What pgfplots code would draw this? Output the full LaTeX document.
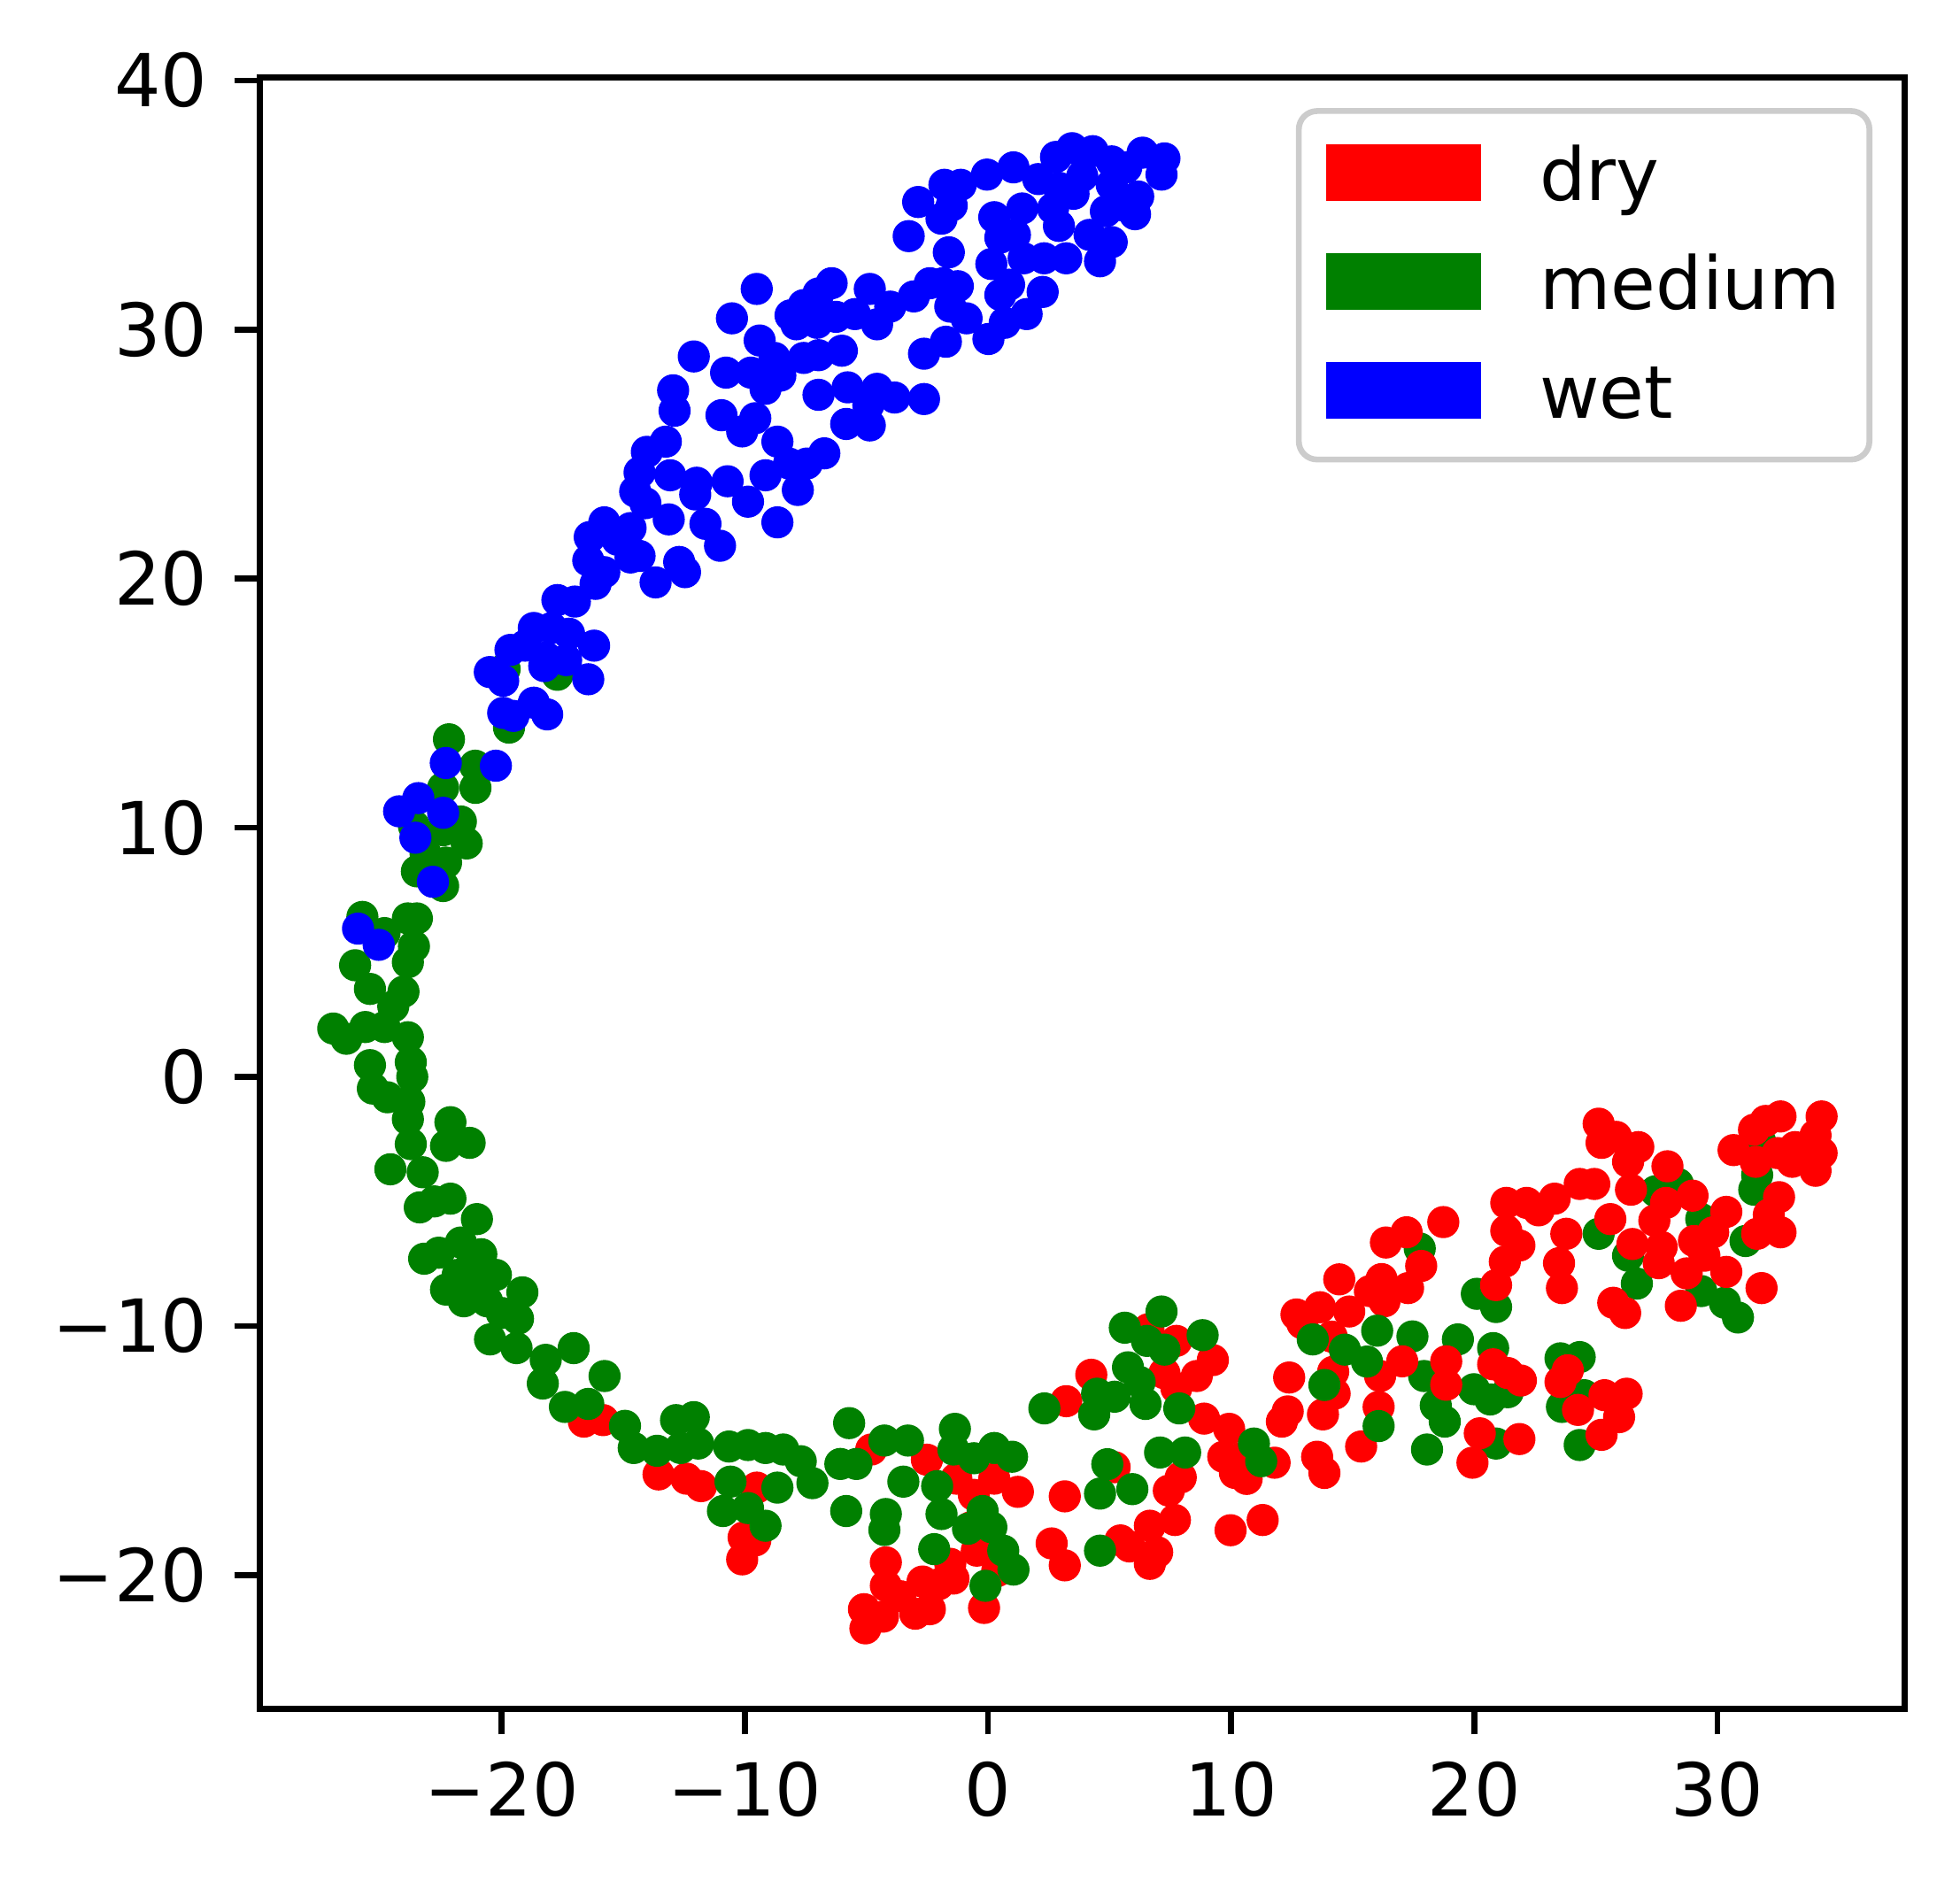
\documentclass[border=0pt]{standalone}
\usepackage{fontspec}
\setmainfont{DejaVu Sans}
\usepackage{pgfplots}
\pgfplotsset{compat=1.18}
\definecolor{mplred}{RGB}{255,0,0}
\definecolor{mplgreen}{RGB}{0,128,0}
\definecolor{mplblue}{RGB}{0,0,255}
\definecolor{legedge}{RGB}{204,204,204}
\begin{document}
\begin{tikzpicture}
\begin{axis}[
  name=ax,
  scale only axis,
  width=225.1pt, height=223.3pt,
  xmin=-29.95, xmax=37.70, ymin=-25.37, ymax=40.12,
  axis line style={line width=0.8pt},
  tick style={line width=0.8pt, black},
  major tick length=3.5pt,
  tick align=outside,
  tick pos=left,
  xtick={-20,-10,0,10,20,30},
  xticklabels={−20,−10,0,10,20,30},
  ytick={-20,-10,0,10,20,30,40},
  yticklabels={−20,−10,0,10,20,30,40},
  ticklabel style={font=\fontsize{10}{12}\selectfont, inner sep=0pt},
  xticklabel style={yshift=-3.5pt},
  yticklabel style={xshift=-3.5pt},
  clip=false,
]
% dry, left part
\addplot[only marks, mark=*, mark size=2pt, color=mplred, mark options={draw=none, fill=mplred}] table {
x y
-16.62 -13.84
-15.83 -13.78
-13.55 -15.96
-12.40 -16.13
-11.80 -16.43
-9.51 -16.49
-10.05 -18.49
-9.57 -18.61
-10.11 -19.37
-4.80 -14.96
-2.51 -15.37
-1.30 -16.13
0.26 -16.13
1.23 -16.66
-0.58 -16.78
-0.70 -18.08
-0.46 -19.02
0.38 -19.84
-4.20 -19.49
-4.20 -20.43
-3.60 -20.85
-2.69 -20.26
-1.55 -19.55
-1.42 -20.14
-2.03 -20.37
-5.10 -21.37
-5.04 -22.14
-4.32 -21.67
-2.99 -21.55
-2.39 -21.37
-0.16 -21.32
4.25 -11.96
3.22 -13.02
6.60 -10.13
7.75 -10.60
9.25 -11.37
7.26 -11.90
7.75 -12.49
8.59 -12.01
8.89 -13.72
9.92 -14.13
9.68 -15.25
10.40 -15.31
10.16 -15.90
10.64 -16.14
11.79 -15.49
7.93 -16.08
7.44 -16.61
5.21 -15.67
3.16 -16.84
2.62 -18.73
3.16 -19.61
5.45 -18.61
5.82 -18.85
6.66 -18.02
7.69 -17.79
6.96 -19.08
6.66 -19.55
9.98 -18.20
11.30 -17.79
12.39 -12.07
12.33 -13.43
12.09 -13.84
14.20 -11.84
14.26 -12.72
13.78 -13.55
13.54 -15.25
13.84 -15.90
15.35 -14.84
12.69 -9.54
12.93 -9.89
13.66 -9.25
14.86 -9.42
14.14 -10.43
16.13 -12.01
16.07 -13.25
14.45 -8.13
15.71 -8.60
16.37 -6.65
16.19 -8.12
16.31 -9.01
};
% medium
\addplot[only marks, mark=*, mark size=2pt, color=mplgreen, mark options={draw=none, fill=mplgreen}] table {
x y
-19.88 16.37
-17.71 16.14
-19.70 14.02
-22.17 13.55
-21.09 12.49
-22.41 11.60
-21.08 11.60
-23.61 10.07
-21.68 10.25
-21.44 9.37
-22.41 9.90
-23.13 8.95
-22.29 8.60
-23.49 8.25
-22.41 7.66
-25.73 6.42
-23.86 6.36
-23.49 6.36
-24.82 5.77
-23.61 5.24
-26.03 4.48
-23.86 4.60
-25.42 3.53
-24.04 3.42
-24.46 2.83
-26.93 1.94
-26.39 1.53
-25.61 2.00
-24.82 2.00
-23.86 1.59
-25.42 0.47
-23.74 0.59
-23.68 0.00
-25.30 -0.47
-24.70 -0.82
-23.80 -1.00
-23.86 -1.70
-23.74 -2.70
-22.11 -1.82
-22.29 -2.77
-21.32 -2.65
-24.58 -3.71
-23.25 -3.83
-22.77 -5.00
-23.37 -5.24
-22.11 -4.89
-21.02 -5.71
-23.19 -7.30
-22.59 -7.06
-21.68 -6.65
-20.84 -7.12
-22.29 -8.54
-21.56 -9.01
-21.81 -7.95
-20.24 -7.95
-19.15 -8.65
-20.60 -9.01
-19.33 -9.71
-20.48 -10.54
-19.39 -10.89
-18.19 -11.36
-17.04 -10.89
-15.77 -12.01
-18.31 -12.31
-17.40 -13.25
-16.44 -13.13
-14.93 -14.01
-14.57 -14.90
-21.20 -7.36
-20.00 -9.48
-21.08 -8.42
-13.61 -15.01
-12.83 -13.78
-12.10 -13.66
-12.64 -14.90
-11.92 -14.72
-10.65 -14.84
-9.87 -14.78
-9.15 -14.90
-8.42 -14.96
-7.70 -15.43
-7.22 -16.31
-8.66 -16.49
-10.59 -16.25
-10.90 -17.43
-9.87 -17.31
-9.15 -18.02
-5.71 -13.90
-6.07 -15.54
-5.41 -15.54
-5.83 -17.43
-4.26 -14.60
-3.29 -14.60
-3.48 -16.25
-4.20 -17.55
-4.26 -18.19
-1.36 -14.13
-1.42 -14.96
-2.09 -16.43
-1.91 -17.55
-0.82 -18.14
-0.22 -17.43
0.14 -18.08
0.26 -14.90
0.99 -15.25
-0.58 -15.31
-2.21 -18.96
0.63 -19.02
1.05 -19.78
-0.10 -20.43
5.63 -10.07
7.14 -9.42
6.54 -10.60
7.26 -10.95
8.83 -10.37
5.76 -11.66
6.24 -12.25
5.21 -12.84
4.37 -13.55
6.48 -13.13
7.87 -13.31
2.32 -13.31
4.49 -12.72
7.08 -15.08
8.11 -15.08
4.91 -15.55
4.61 -16.73
5.94 -16.55
10.94 -14.72
11.24 -15.43
4.61 -19.02
13.36 -10.54
14.68 -10.95
15.59 -11.43
16.01 -10.19
13.84 -12.37
16.07 -14.02
28.38 -4.30
27.47 -4.59
29.34 -5.71
29.34 -8.60
25.12 -6.30
26.33 -7.18
26.69 -8.30
20.11 -8.71
20.90 -9.24
17.76 -6.89
17.46 -10.42
19.33 -10.54
20.78 -10.89
17.94 -12.01
19.99 -12.54
20.66 -12.95
21.38 -12.66
18.42 -13.19
18.79 -13.84
18.06 -14.96
20.90 -14.72
23.55 -11.30
24.34 -11.25
24.52 -12.78
23.61 -13.25
24.34 -14.78
31.16 -6.59
31.64 -3.94
31.52 -4.53
30.31 -9.07
30.85 -9.66
31.76 -2.59
};
% dry, right part
\addplot[only marks, mark=*, mark size=2pt, color=mplred, mark options={draw=none, fill=mplred}] table {
x y
25.12 -1.88
25.24 -2.65
25.84 -2.41
26.75 -2.82
26.33 -3.41
27.95 -3.59
26.45 -4.53
28.98 -4.77
27.89 -5.06
27.41 -5.77
25.60 -5.71
26.51 -6.71
27.71 -6.83
27.59 -7.48
28.74 -7.89
29.04 -6.59
28.50 -9.19
25.72 -9.07
26.21 -9.48
24.34 -4.30
24.94 -4.30
23.31 -4.89
22.65 -5.36
22.16 -5.06
21.32 -5.06
21.32 -6.18
21.86 -6.77
21.26 -7.42
20.90 -8.36
23.79 -6.30
23.49 -7.48
23.61 -8.48
18.73 -5.83
17.22 -6.24
17.82 -7.59
17.28 -8.48
18.85 -11.42
18.85 -12.36
20.78 -11.54
21.38 -11.89
21.92 -12.19
23.55 -12.25
23.85 -11.78
24.27 -13.37
25.36 -12.78
26.27 -12.72
25.96 -13.66
25.24 -14.37
20.23 -14.31
21.86 -14.54
19.93 -15.49
17.04 -11.42
29.47 -7.18
30.37 -5.42
29.83 -6.24
30.37 -7.83
31.82 -8.48
32.54 -4.83
32.12 -5.53
32.60 -6.24
31.64 -6.30
30.67 -2.94
31.58 -3.41
31.51 -2.12
31.99 -1.77
32.60 -1.59
34.29 -1.59
34.04 -2.35
33.20 -2.82
32.48 -3.06
33.08 -3.41
34.04 -3.77
34.29 -3.06
};
% wet
\addplot[only marks, mark=*, mark size=2pt, color=mplblue, mark options={draw=none, fill=mplblue}] table {
x y
2.80 36.93
3.46 37.28
4.31 37.16
5.09 36.75
6.36 37.10
7.26 36.87
7.14 36.22
5.69 36.51
3.88 36.16
3.52 35.45
5.09 35.81
6.18 35.34
4.85 34.75
6.05 34.63
5.57 34.98
2.92 35.69
2.68 34.86
2.07 36.04
1.05 36.51
-0.04 36.22
-1.12 35.81
-1.79 35.81
-1.49 34.98
-2.87 35.12
-1.91 34.45
1.41 34.86
0.26 34.51
1.11 33.80
0.51 33.69
2.92 34.16
4.18 33.80
5.09 33.51
4.61 32.74
3.22 32.86
2.31 32.86
1.47 32.86
0.14 32.63
0.87 31.80
0.51 31.39
2.25 31.51
1.59 30.62
0.69 30.27
0.02 29.62
-0.88 30.45
-1.55 30.92
-1.24 31.74
-1.85 31.86
-2.39 31.86
-3.05 31.33
-1.61 33.10
-3.26 33.75
-9.51 31.63
-6.43 31.86
-6.97 31.45
-7.58 30.98
-8.12 30.57
-7.88 30.21
-7.03 30.27
-6.25 30.51
-5.47 30.62
-4.86 31.63
-4.56 30.21
-4.02 30.92
-9.39 29.56
-8.78 28.86
-8.54 28.15
-9.15 27.62
-9.75 28.27
-7.58 28.86
-6.97 28.97
-6.01 29.15
-1.73 29.51
-2.63 29.03
-6.97 27.38
-5.77 27.68
-4.56 27.62
-3.84 27.27
-2.63 27.21
-4.92 26.97
-5.83 26.21
-4.86 26.15
-9.57 26.44
-8.66 25.50
-6.73 25.03
-7.45 24.62
-8.18 24.62
-9.15 24.15
-7.82 23.56
-10.53 30.45
-8.66 22.26
-12.10 28.92
-10.77 28.27
-12.95 27.56
-12.89 26.74
-10.96 26.56
-10.11 25.91
-13.25 25.50
-14.03 25.09
-14.33 24.26
-14.51 23.50
-13.07 24.15
-11.98 23.85
-12.04 23.38
-10.71 23.91
-9.87 23.09
-13.13 22.38
-14.09 23.03
-11.62 22.20
-11.02 21.32
-12.70 20.67
-12.46 20.26
-13.67 19.85
-14.33 20.91
-14.70 20.85
-14.70 22.03
-15.78 22.26
-16.38 21.67
-15.24 21.56
-16.44 20.73
-15.78 20.26
-16.14 19.79
-17.71 19.14
-16.99 19.08
-18.68 18.02
-17.95 18.02
-17.23 17.79
-16.20 17.31
-19.64 17.14
-19.04 17.31
-18.19 16.84
-18.25 16.49
-17.35 16.73
-16.44 15.96
-20.49 16.25
-19.94 15.90
-19.94 14.61
-18.68 15.02
-18.13 14.55
-19.52 14.49
-22.30 12.60
-20.24 12.49
-24.22 10.66
-23.43 11.19
-22.41 10.60
-23.55 9.60
-22.83 7.83
-25.91 5.95
-25.06 5.30
};
\coordinate (NE) at (rel axis cs:1,1);
\coordinate (SW) at (rel axis cs:0,0);
\end{axis}
% legend (matplotlib style: patches)
\draw[legedge, fill=white, line width=0.8pt, rounded corners=2.5pt]
  ([xshift=-82.9pt,yshift=-52.3pt]NE) rectangle ([xshift=-4.8pt,yshift=-4.6pt]NE);
\fill[mplred]   ([xshift=-79.2pt,yshift=-16.9pt]NE) rectangle ([xshift=-58.0pt,yshift=-9.2pt]NE);
\fill[mplgreen] ([xshift=-79.2pt,yshift=-31.8pt]NE) rectangle ([xshift=-58.0pt,yshift=-24.1pt]NE);
\fill[mplblue]  ([xshift=-79.2pt,yshift=-46.7pt]NE) rectangle ([xshift=-58.0pt,yshift=-39.0pt]NE);
\node[anchor=base west, inner sep=0pt, font=\fontsize{10}{12}\selectfont] at ([xshift=-50.1pt,yshift=-16.9pt]NE) {dry};
\node[anchor=base west, inner sep=0pt, font=\fontsize{10}{12}\selectfont] at ([xshift=-50.1pt,yshift=-31.8pt]NE) {medium};
\node[anchor=base west, inner sep=0pt, font=\fontsize{10}{12}\selectfont] at ([xshift=-50.1pt,yshift=-46.7pt]NE) {wet};
\pgfresetboundingbox
\path ([xshift=-35.56pt,yshift=-24.6pt]SW) rectangle ([xshift=7.6pt,yshift=10.6pt]NE);
\end{tikzpicture}
\end{document}
